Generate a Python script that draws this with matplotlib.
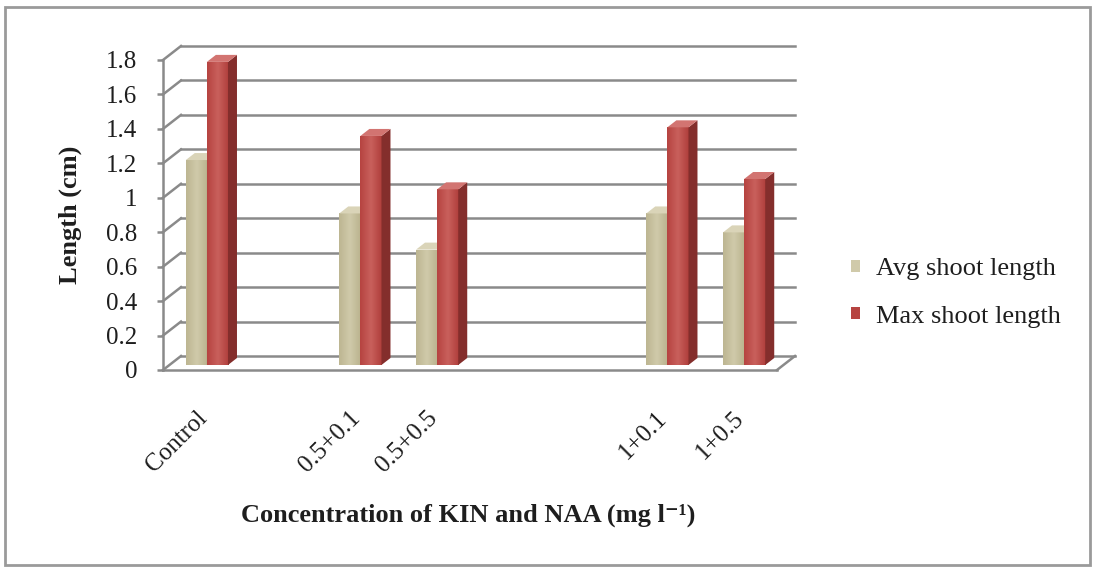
import numpy as np
import matplotlib.pyplot as plt
from matplotlib.colors import LinearSegmentedColormap
from matplotlib.patches import Polygon, Rectangle, Patch
from matplotlib.transforms import ScaledTranslation

# data (blank slots are empty categories in the original)
categories = ["Control", "", "0.5+0.1", "0.5+0.5", "", "", "1+0.1", "1+0.5"]
avg_len = [1.19, None, 0.88, 0.67, None, None, 0.88, 0.77]
max_len = [1.76, None, 1.33, 1.02, None, None, 1.38, 1.08]
series_names = ["Avg shoot length", "Max shoot length"]
yticks = [0, 0.2, 0.4, 0.6, 0.8, 1.0, 1.2, 1.4, 1.6, 1.8]
ytick_labels = ["0", "0.2", "0.4", "0.6", "0.8", "1", "1.2", "1.4", "1.6", "1.8"]

plt.rcParams["font.family"] = ["Liberation Serif", "DejaVu Serif"]

W, H = 1096, 567
fig = plt.figure(figsize=(W / 100, H / 100), dpi=100)
fig.patch.set_facecolor("white")

# front plane of the 3d box
ax = fig.add_axes([163 / W, 197 / H, 614 / W, 310 / H])
n = len(categories)
ax.patch.set_alpha(0)

sx = 614 / n          # px per category
sy = 310 / 1.8        # px per unit
wall_dx, wall_dy = 18 / sx, 14 / sy
bar_dx, bar_dy = 5.5 / sx, 5 / sy
depth_dx, depth_dy = 9 / sx, 7 / sy
bw = 0.275

grid_c = "#8a8a8a"
lw = 1.8
text_c = "#1e1e1e"

# side wall diagonals and back wall gridlines
for v in yticks:
    ax.plot([0, wall_dx], [v, v + wall_dy], color=grid_c, lw=lw, clip_on=False, zorder=1)
    ax.plot([wall_dx, n + wall_dx], [v + wall_dy] * 2, color=grid_c, lw=lw, clip_on=False, zorder=1)
ax.plot([n, n + wall_dx], [0, wall_dy], color=grid_c, lw=lw, clip_on=False, zorder=1)


def draw_bar(x, v, cols):
    front_l, front_m, front_r, side, top = cols
    y0 = bar_dy
    rect = Rectangle((x, y0), bw, v, fc="none", ec="none", clip_on=False, zorder=3)
    ax.add_patch(rect)
    cmap = LinearSegmentedColormap.from_list("g", [front_l, front_m, front_r])
    im = ax.imshow(np.linspace(0, 1, 32)[None, :], extent=[x, x + bw, y0, y0 + v],
                   aspect="auto", cmap=cmap, zorder=3, interpolation="bilinear")
    im.set_clip_path(rect)
    ax.add_patch(Polygon([(x + bw, y0), (x + bw + depth_dx, y0 + depth_dy),
                          (x + bw + depth_dx, y0 + v + depth_dy), (x + bw, y0 + v)],
                         closed=True, fc=side, ec="none", clip_on=False, zorder=3))
    ax.add_patch(Polygon([(x, y0 + v), (x + depth_dx, y0 + v + depth_dy),
                          (x + bw + depth_dx, y0 + v + depth_dy), (x + bw, y0 + v)],
                         closed=True, fc=top, ec="none", clip_on=False, zorder=3))


avg_cols = ("#BDB692", "#D0CAAA", "#BAB38E", "#9E9878", "#DAD4B8")
max_cols = ("#B64441", "#C9605C", "#B03F3C", "#842E2C", "#D27471")
for i, (a, m) in enumerate(zip(avg_len, max_len)):
    if a is None:
        continue
    x0 = i + 0.5 - bw + bar_dx
    draw_bar(x0, a, avg_cols)
    draw_bar(x0 + bw, m, max_cols)

ax.set_xlim(0, n)
ax.set_ylim(0, 1.8)

for s in ["top", "right"]:
    ax.spines[s].set_visible(False)
for s in ["left", "bottom"]:
    ax.spines[s].set_color(grid_c)
    ax.spines[s].set_linewidth(lw)

ax.set_yticks(yticks, ytick_labels, fontsize=18, color=text_c)
ax.tick_params(axis="y", length=4.5, width=lw, color=grid_c, pad=14)
ax.set_xticks(np.arange(n) + 0.5, categories, fontsize=18, rotation=45, color=text_c,
              ha="right", va="center", rotation_mode="anchor")
ax.tick_params(axis="x", length=0, pad=32)
for lab in ax.get_xticklabels():
    lab.set_transform(lab.get_transform() + ScaledTranslation(0.02, 0, fig.dpi_scale_trans))

ax.text(-(163 - 70) / 614, 0.5, "Length (cm)", transform=ax.transAxes, rotation=90,
        ha="center", va="center", fontsize=19, fontweight="bold", color=text_c)
fig.text(468 / W, 1 - 515 / H, "Concentration of KIN and NAA (mg l\u207b\u00b9)",
         ha="center", va="center", fontsize=19, fontweight="bold", color=text_c)

handles = [Patch(fc=avg_cols[1]), Patch(fc=max_cols[0])]
leg = fig.legend(handles, series_names, loc="center left", bbox_to_anchor=(851 / W, 1 - 293 / H),
                 frameon=False, fontsize=19, handlelength=0.35, handleheight=0.35,
                 handletextpad=0.6, labelspacing=0.95, borderpad=0, borderaxespad=0)
for t in leg.get_texts():
    t.set_color(text_c)

fig.add_artist(Rectangle((5 / W, 2 / H), 1085 / W, 558 / H, transform=fig.transFigure,
                         fill=False, ec="#9a9a9a", lw=2))

fig.savefig("out.png", dpi=100)
